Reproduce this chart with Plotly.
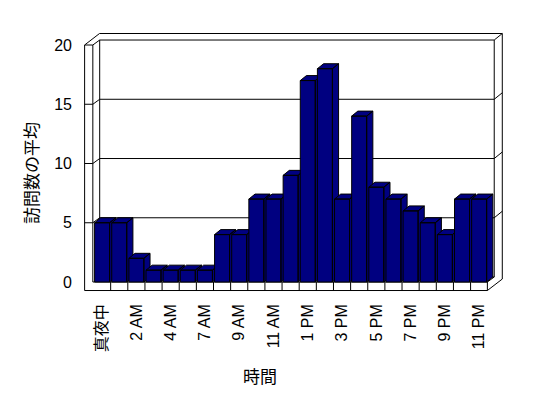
import plotly.graph_objects as go

# ---- data ----
categories = ["真夜中", "1 AM", "2 AM", "3 AM", "4 AM", "5 AM", "7 AM", "8 AM",
              "9 AM", "10 AM", "11 AM", "12 PM", "1 PM", "2 PM", "3 PM", "4 PM",
              "5 PM", "6 PM", "7 PM", "8 PM", "9 PM", "10 PM", "11 PM"]
visits = [5, 5, 2, 1, 1, 1, 1, 4, 4, 7, 7, 9, 17, 18, 7, 14, 8, 7, 6, 5, 4, 7, 7]
y_ticks = [0, 5, 10, 15, 20]
x_title = "時間"
y_title = "訪問数の平均"

# ---- 3D-look geometry (data units) ----
HALF_W = 0.4375          # half width of bar front face
BDX, BDY = 0.36, 0.42    # bar depth offset
WDX, WDY = 0.40, 0.42    # wall depth offset
TDX, TDY = 0.47, 0.55    # back wall thickness offset
XLO, XHI = -0.54, 22.48  # floor front extent
XOUT = -1.02             # outer face of left wall
FLOOR_BOT = -0.72
YMAX = y_ticks[-1]
NAVY = "#000080"

fig = go.Figure()

# bars drawn left to right so nearer (right) bars hide the sides of earlier ones
for i, v in enumerate(visits):
    x0, x1 = i - HALF_W, i + HALF_W
    side_x = [x1, x1 + BDX, x1 + BDX, x1, x1]
    side_y = [0, BDY, v + BDY, v, 0]
    top_x = [x0, x0 + BDX, x1 + BDX, x1, x0]
    top_y = [v, v + BDY, v + BDY, v, v]
    front_x = [x0, x1, x1, x0, x0]
    front_y = [0, 0, v, v, 0]
    xs = side_x + [None] + top_x + [None] + front_x
    ys = side_y + [None] + top_y + [None] + front_y
    fig.add_trace(go.Scatter(
        x=xs, y=ys, mode="lines", fill="toself", fillcolor=NAVY,
        line=dict(color="black", width=1), hoverinfo="skip",
        name=categories[i], showlegend=False))

def path(pts, close=False):
    s = "M " + " L ".join(f"{x},{y}" for x, y in pts)
    return s + (" Z" if close else "")

shapes = []
line_k = dict(color="black", width=1)
# outer hull (white walls + floor)
hull = [(XOUT, FLOOR_BOT), (XOUT, YMAX),
        (XOUT + WDX + TDX, YMAX + WDY + TDY),
        (XHI + WDX + TDX, YMAX + WDY + TDY),
        (XHI + WDX + TDX, FLOOR_BOT + WDY + TDY),
        (XHI, FLOOR_BOT)]
shapes.append(dict(type="path", path=path(hull, True), xref="x", yref="y",
                   fillcolor="white", line=line_k, layer="below"))
# left wall inner front edge, floor front top edge, floor right edge
shapes.append(dict(type="path", path=path([(XLO, YMAX), (XLO, 0), (XHI, 0), (XHI, FLOOR_BOT)]),
                   xref="x", yref="y", line=line_k, layer="below"))
# back corner lines and floor back edge
shapes.append(dict(type="path", path=path([(XLO + WDX, YMAX + WDY), (XLO + WDX, WDY),
                                           (XHI + WDX, WDY), (XHI + WDX, YMAX + WDY)]),
                   xref="x", yref="y", line=line_k, layer="below"))
shapes.append(dict(type="path", path=path([(XHI, 0), (XHI + WDX, WDY)]),
                   xref="x", yref="y", line=line_k, layer="below"))
# gridlines wrapping the walls
for t in y_ticks[1:]:
    pts = [(XOUT, t), (XLO, t), (XLO + WDX, t + WDY), (XHI + WDX, t + WDY),
           (XHI + WDX + TDX, t + WDY + TDY)]
    shapes.append(dict(type="path", path=path(pts), xref="x", yref="y",
                       line=line_k, layer="below"))
# floor front-face category ticks
for k in range(len(categories) - 1):
    shapes.append(dict(type="line", x0=k + 0.5, x1=k + 0.5, y0=0, y1=FLOOR_BOT,
                       xref="x", yref="y", line=line_k, layer="below"))

tick_idx = list(range(0, len(categories), 2))

fig.update_layout(
    width=548, height=398,
    margin=dict(l=72, r=46, t=17, b=106, autoexpand=False),
    paper_bgcolor="white", plot_bgcolor="white",
    showlegend=False,
    shapes=shapes,
    xaxis=dict(range=[-1.2894, 23.80], tickmode="array", tickvals=tick_idx,
               ticktext=[categories[i] for i in tick_idx], tickangle=-90,
               showgrid=False, zeroline=False, showline=False, ticks="",
               automargin=False,
               tickfont=dict(family="Liberation Sans, Noto Sans CJK JP", size=16, color="black")),
    yaxis=dict(range=[-1.519, 21.688], tickmode="array", tickvals=y_ticks,
               showgrid=False, zeroline=False, showline=False, ticks="",
               ticklabelstandoff=7, automargin=False,
               tickfont=dict(family="Liberation Sans", size=16, color="black")),
    annotations=[
        dict(text=x_title, xref="paper", yref="paper", x=(260 - 80) / 430, y=(300 - 375) / 275,
             xanchor="center", yanchor="middle", showarrow=False,
             font=dict(family="Noto Sans CJK JP", size=17, color="black")),
        dict(text=y_title, xref="paper", yref="paper", x=(30 - 80) / 430, y=(300 - 173) / 275,
             xanchor="center", yanchor="middle", showarrow=False, textangle=-90,
             font=dict(family="Noto Sans CJK JP", size=17, color="black")),
    ],
)

fig.write_html("out.html")
